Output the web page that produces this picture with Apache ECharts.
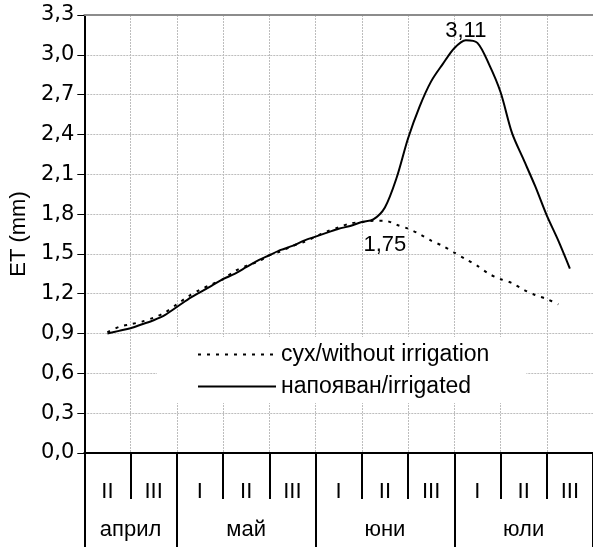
<!DOCTYPE html>
<html>
<head>
<meta charset="utf-8">
<script src="https://cdn.jsdelivr.net/npm/echarts@6/dist/echarts.min.js"></script>
<style>
  html, body { margin: 0; padding: 0; background: #fff; }
  #chart { width: 593px; height: 547px; }
</style>
</head>
<body>
<div id="chart"></div>
<script>
// Ten-day periods (decades) along the season and the months they belong to
const decadeLabels = ['II', 'III', 'I', 'II', 'III', 'I', 'II', 'III', 'I', 'II', 'III'];
const monthNames = ['април', 'май', 'юни', 'юли'];
const monthBounds = [0, 2, 5, 8, 11];          // month edges, in decades
const decadeCenters = [0.5, 1.5, 2.5, 3.5, 4.5, 5.5, 6.5, 7.5, 8.5, 9.5, 10.5];
const monthCenters = [1, 3.5, 6.5, 9.5];

// Position of each reading, in decades from the start of the axis
const xPos = [0.5, 0.75, 1, 1.25, 1.5, 1.75, 2, 2.25, 2.5, 2.75, 3, 3.25, 3.5, 3.75,
  4, 4.25, 4.5, 4.75, 5, 5.25, 5.5, 5.75, 6, 6.25, 6.5, 6.75, 7, 7.25, 7.5, 7.75,
  8, 8.25, 8.5, 8.75, 9, 9.25, 9.5, 9.75, 10, 10.25, 10.5];

// Daily ET, mm — irrigated plot
const irrigated = [0.90, 0.92, 0.94, 0.97, 1.00, 1.04, 1.10, 1.16, 1.21, 1.26, 1.31,
  1.35, 1.40, 1.45, 1.49, 1.53, 1.56, 1.60, 1.63, 1.66, 1.69, 1.71, 1.74, 1.76,
  1.85, 2.07, 2.37, 2.61, 2.80, 2.93, 3.05, 3.11, 3.09, 2.93, 2.72, 2.41, 2.21,
  2.01, 1.79, 1.60, 1.39];

// Daily ET, mm — plot without irrigation
const dry = [0.91, 0.95, 0.97, 0.99, 1.02, 1.06, 1.12, 1.18, 1.23, 1.27, 1.31, 1.37,
  1.41, 1.44, 1.49, 1.52, 1.56, 1.59, 1.63, 1.67, 1.70, 1.73, 1.74, 1.75, 1.75,
  1.72, 1.69, 1.65, 1.60, 1.56, 1.51, 1.46, 1.41, 1.35, 1.31, 1.28, 1.23, 1.19,
  1.16, 1.12];

// Axis range for ET
const yMin = 0, yMax = 3.3, yStep = 0.3;

const FONT = 'Liberation Sans, Arial, sans-serif';
const TICK_FONT = 'DejaVu Sans, Liberation Sans, sans-serif';
const fmt = v => Number(v).toFixed(2).replace('.', ',');

const pairs = (xs, ys) => ys.map((y, i) => [xs[i], y]);
const peakIdx = irrigated.indexOf(Math.max(...irrigated));
const dryLabelIdx = 24;   // 1,75 at the middle of June's second decade

const chart = echarts.init(document.getElementById('chart'), null, { renderer: 'canvas' });

const gridLine = { show: true, lineStyle: { color: '#bdbdbd', width: 1, type: [2, 1] } };

chart.setOption({
  animation: false,
  backgroundColor: '#fff',
  grid: { left: 80, top: 15, width: 517.5, height: 438, containLabel: false },
  legend: {
    orient: 'vertical',
    left: 157,
    top: 337,
    backgroundColor: '#fff',
    padding: [6, 37, 5, 40],
    itemWidth: 78,
    itemHeight: 14,
    itemGap: 9,
    itemStyle: { color: 'rgba(0,0,0,0)', borderWidth: 0, opacity: 0 },
    textStyle: { fontFamily: FONT, fontSize: 23, color: '#000' },
    data: ['сух/without irrigation', 'напояван/irrigated']
  },
  xAxis: [
    {
      // decade boundaries: gridlines and short ticks
      type: 'value', min: 0, max: 11, interval: 1, position: 'bottom',
      axisLine: { show: true, onZero: false, lineStyle: { color: '#000', width: 2 } },
      axisTick: { show: true, length: 46, lineStyle: { color: '#000', width: 2 } },
      axisLabel: { show: false },
      splitLine: gridLine
    },
    {
      // decade names
      type: 'value', min: 0, max: 11, position: 'bottom',
      axisLine: { show: false }, axisTick: { show: false }, splitLine: { show: false },
      axisLabel: {
        show: true, customValues: decadeCenters, margin: 39, verticalAlign: 'middle',
        formatter: v => decadeLabels[Math.floor(v)],
        fontFamily: FONT, fontSize: 22, color: '#000'
      }
    },
    {
      // month separators and names
      type: 'value', min: 0, max: 11, position: 'bottom',
      axisLine: { show: false }, splitLine: { show: false },
      axisTick: { show: true, customValues: monthBounds, length: 100, lineStyle: { color: '#000', width: 2 } },
      axisLabel: {
        show: true, customValues: monthCenters, margin: 77, verticalAlign: 'middle',
        formatter: v => monthNames[monthCenters.indexOf(v)],
        fontFamily: FONT, fontSize: 22, color: '#000'
      }
    },
    {
      // upper frame of the plot
      type: 'value', min: 0, max: 11, position: 'top',
      axisLine: { show: true, onZero: false, lineStyle: { color: '#8c8c8c', width: 2 } },
      axisTick: { show: false }, axisLabel: { show: false }, splitLine: { show: false }
    }
  ],
  yAxis: {
    type: 'value', min: yMin, max: yMax, interval: yStep,
    name: 'ET (mm)', nameLocation: 'middle', nameGap: 49,
    nameTextStyle: { fontFamily: FONT, fontSize: 22, color: '#000' },
    axisLine: { show: true, lineStyle: { color: '#000', width: 2 } },
    axisTick: { show: true, length: 7, lineStyle: { color: '#000', width: 1 } },
    axisLabel: {
      margin: 10, fontFamily: TICK_FONT, fontSize: 21, color: '#000',
      formatter: v => v.toFixed(1).replace('.', ',')
    },
    splitLine: gridLine
  },
  series: [
    {
      name: 'сух/without irrigation', type: 'line', xAxisIndex: 0,
      data: pairs(xPos, dry), symbol: 'none', smooth: 0.3,
      itemStyle: { color: '#000' },
      lineStyle: { color: '#000', width: 2, type: [3, 6] },
      markPoint: {
        symbol: 'circle', symbolSize: 0, animation: false,
        data: [{ coord: [xPos[dryLabelIdx], dry[dryLabelIdx]], value: dry[dryLabelIdx] }],
        label: {
          show: true, position: 'bottom', distance: 13,
          formatter: p => fmt(p.value),
          fontFamily: FONT, fontSize: 22, color: '#000'
        }
      },
      z: 3
    },
    {
      name: 'напояван/irrigated', type: 'line', xAxisIndex: 0,
      data: pairs(xPos, irrigated), symbol: 'none', smooth: 0.3,
      itemStyle: { color: '#000' },
      lineStyle: { color: '#000', width: 2, type: 'solid' },
      markPoint: {
        symbol: 'circle', symbolSize: 0, animation: false,
        data: [{ coord: [xPos[peakIdx], irrigated[peakIdx]], value: irrigated[peakIdx] }],
        label: {
          show: true, position: 'top', distance: -2,
          formatter: p => fmt(p.value),
          fontFamily: FONT, fontSize: 22, color: '#000'
        }
      },
      z: 4
    }
  ]
});
</script>
</body>
</html>
